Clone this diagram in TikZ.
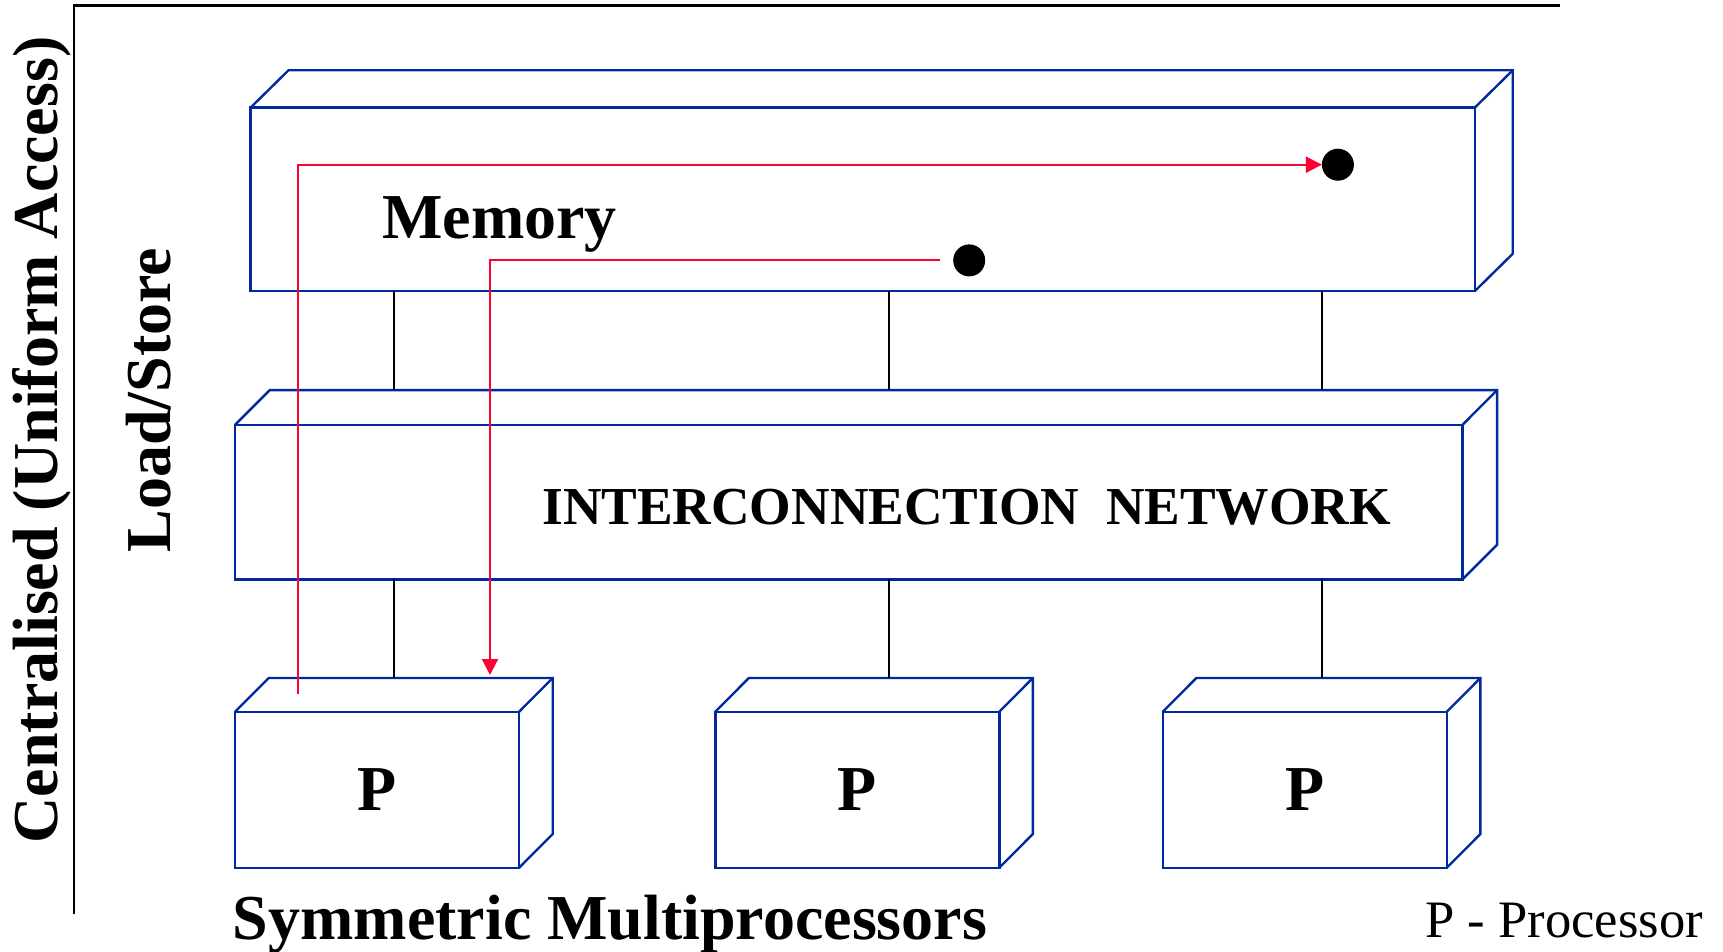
\documentclass[tikz,border=0pt]{standalone}
\usepackage{fontspec}
\setmainfont{Liberation Serif}
\usetikzlibrary{arrows.meta}
\definecolor{boxblue}{RGB}{0,40,160}
\definecolor{arrred}{RGB}{255,0,51}
\newcommand\cubeedges[3]{%
  \draw[boxline] (#1.north west) -- ([shift={(#2,-#3)}]#1.north west)
     -- ([shift={(#2,-#3)}]#1.north east) -- ([shift={(#2,-#3)}]#1.south east)
     -- (#1.south east);
  \draw[boxline] (#1.north east) -- ([shift={(#2,-#3)}]#1.north east);
  \coordinate (#1top) at ([shift={(#2,-#3)}]#1.north west);
}
\begin{document}
\begin{tikzpicture}[x=0.5pt,y=-0.5pt,
  boxline/.style={draw=boxblue, line width=1.2pt, line join=miter},
  face/.style={rectangle, draw=boxblue, line width=1.2pt, inner sep=0pt, outer sep=0pt},
  plabel/.style={font=\fontsize{32}{38}\selectfont\bfseries},
  wire/.style={draw=black, line width=1pt},
  redarrow/.style={draw=arrred, line width=1pt, -{Triangle[length=8pt,width=8pt]}},
  dotnode/.style={circle, fill=black, minimum size=16pt, inner sep=0pt, outer sep=0pt},
  axis/.style={draw=black, line width=1.1pt},
  bigtext/.style={font=\fontsize{32}{38}\selectfont\bfseries, inner sep=0pt}
]
\useasboundingbox (0,0) rectangle (1723,952);

% axes
\coordinate (axtr) at (1560,5.5);
\coordinate (axtl) at (73.6,5.5);
\coordinate (axbl) at (73.6,914);
\draw[axis] (axtr) -- (axtl) -- (axbl);

% boxes
\node[face, minimum width=612.1pt, minimum height=91.75pt] (mem) at (862.6,199.45) {};
\cubeedges{mem}{38}{37.4}
\node[face, minimum width=613.7pt, minimum height=77.3pt] (net) at (848.9,502) {};
\cubeedges{net}{34.5}{34.6}
\node[face, plabel, minimum width=142pt, minimum height=78pt] (p1) at (377.1,789.7) {P};
\cubeedges{p1}{33.6}{33.7}
\node[face, plabel, minimum width=142pt, minimum height=78pt] (p2) at (857.3,789.7) {P};
\cubeedges{p2}{33.6}{33.7}
\node[face, plabel, minimum width=142pt, minimum height=78pt] (p3) at (1304.8,789.7) {P};
\cubeedges{p3}{33.6}{33.7}

% labels
\node[bigtext, anchor=base] (memlabel) at (499.5,238.5) {Memory};
\node[anchor=base, inner sep=0pt, font=\fontsize{26.7}{32}\selectfont\bfseries] (netlabel) at (966.6,524) {INTERCONNECTION\ \ NETWORK};
\node[bigtext, anchor=base west] (smp) at (232.5,939) {Symmetric Multiprocessors};
\node[anchor=base west, inner sep=0pt, font=\fontsize{26.3}{31}\selectfont] (legend) at (1425,937) {P - Processor};
\node[bigtext, rotate=90, anchor=base] (central) at (57.4,440) {Centralised (Uniform Access)};
\node[bigtext, rotate=90, anchor=base] (ldst) at (170,400) {Load/Store};

% wires
\coordinate (c1) at (393.6,0);
\coordinate (c2) at (889,0);
\coordinate (c3) at (1322,0);
\foreach \c in {c1,c2,c3} {
  \draw[wire] (\c |- mem.south) -- (\c |- nettop);
}
\draw[wire] (c1 |- net.south) -- (c1 |- p1top);
\draw[wire] (c2 |- net.south) -- (c2 |- p2top);
\draw[wire] (c3 |- net.south) -- (c3 |- p3top);

% dots and red paths
\node[dotnode] (dot1) at (1337.9,164.7) {};
\node[dotnode] (dot2) at (969.2,260.4) {};
\coordinate (r1s) at (297.8,694);
\coordinate (r2) at (490,0);
\draw[redarrow] (r1s) |- (dot1);
\draw[redarrow, shorten <=6.5pt, shorten >=1.5pt] (dot2.west) -| (r2 |- p1top);
\end{tikzpicture}
\end{document}
